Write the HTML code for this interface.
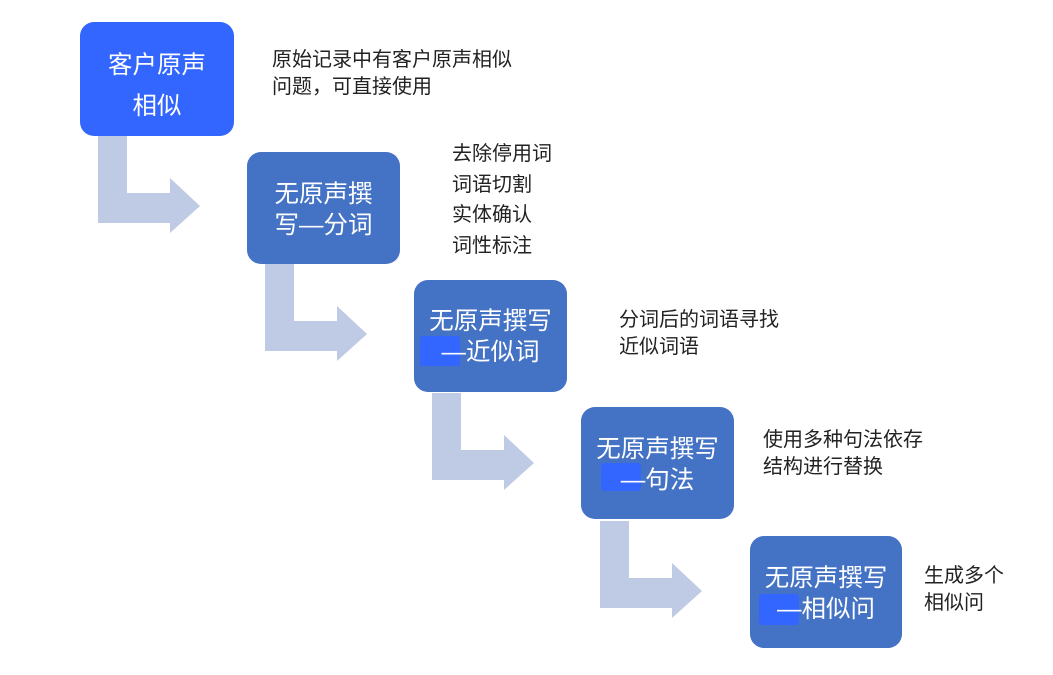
<!DOCTYPE html>
<html><head><meta charset="utf-8"><style>
html,body{margin:0;padding:0;background:#fff;}
body{width:1053px;height:675px;position:relative;overflow:hidden;font-family:"Liberation Sans","Noto Sans CJK SC",sans-serif;}
.box{position:absolute;width:153px;height:112px;background:#4472c4;border-radius:14px;color:#fff;font-size:24.5px;}
.box .t{position:absolute;left:0;width:100%;text-align:center;white-space:nowrap;}
.hl{position:absolute;background:#3366ff;border-radius:3px;}
.txt{position:absolute;color:#222;font-size:20px;white-space:nowrap;}
svg{position:absolute;left:0;top:0;}
</style></head><body>
<svg width="1053" height="675">
<g fill="#bfcae4">
<polygon points="98,136 127,136 127,193 170,193 170,178 200,206 170,233 170,223 98,223"/>
<polygon transform="translate(167,128)" points="98,136 127,136 127,193 170,193 170,178 200,206 170,233 170,223 98,223"/>
<polygon transform="translate(334,257)" points="98,136 127,136 127,193 170,193 170,178 200,206 170,233 170,223 98,223"/>
<polygon transform="translate(502,385)" points="98,136 127,136 127,193 170,193 170,178 200,206 170,233 170,223 98,223"/>
</g>
</svg>

<div class="box" style="left:80px;top:22px;width:154px;height:114px;background:#3366ff;">
<div class="t" style="top:24px;">客户原声</div>
<div class="t" style="top:65px;">相似</div>
</div>
<div class="box" style="left:247px;top:152px;">
<div class="t" style="top:23px;">无原声撰</div>
<div class="t" style="top:54px;">写—分词</div>
</div>
<div class="box" style="left:414px;top:280px;">
<div class="hl" style="left:6px;top:56px;width:40px;height:30px;"></div>
<div class="t" style="top:22px;">无原声撰写</div>
<div class="t" style="top:53px;">—近似词</div>
</div>
<div class="box" style="left:581px;top:407px;">
<div class="hl" style="left:20px;top:56px;width:40px;height:28px;"></div>
<div class="t" style="top:23px;">无原声撰写</div>
<div class="t" style="top:54px;">—句法</div>
</div>
<div class="box" style="left:750px;top:536px;width:152px;">
<div class="hl" style="left:9px;top:58px;width:40px;height:31px;"></div>
<div class="t" style="top:23px;">无原声撰写</div>
<div class="t" style="top:54px;">—相似问</div>
</div>

<div class="txt" style="left:272px;top:47px;line-height:27px;">原始记录中有客户原声相似<br>问题，可直接使用</div>
<div class="txt" style="left:452px;top:139px;line-height:30.5px;">去除停用词<br>词语切割<br>实体确认<br>词性标注</div>
<div class="txt" style="left:619px;top:307px;line-height:27px;">分词后的词语寻找<br>近似词语</div>
<div class="txt" style="left:763px;top:427px;line-height:27px;">使用多种句法依存<br>结构进行替换</div>
<div class="txt" style="left:924px;top:563px;line-height:27px;">生成多个<br>相似问</div>
</body></html>
